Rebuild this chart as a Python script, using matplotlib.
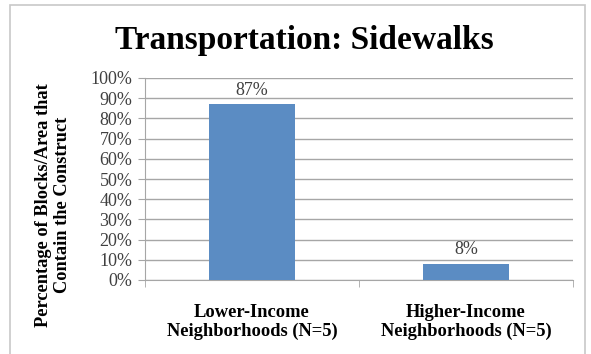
import matplotlib.pyplot as plt
from matplotlib.patches import Rectangle
from matplotlib.ticker import PercentFormatter

categories = ["Lower-Income\nNeighborhoods (N=5)", "Higher-Income\nNeighborhoods (N=5)"]
values = [87, 8]
yticks = list(range(0, 101, 10))

W, H = 591, 354
fig = plt.figure(figsize=(W / 100, H / 100), dpi=100)
fig.patch.set_facecolor("white")
serif = "Liberation Serif"

# chart frame
fig.add_artist(Rectangle((10 / W, -0.05), 575 / W, 1 - 5 / H + 0.05,
                         transform=fig.transFigure, fill=False,
                         edgecolor="#c8c8c8", linewidth=1.2))

ax = fig.add_axes([145 / W, 1 - 280 / H, (573 - 145) / W, (280 - 78) / H])

x = range(len(values))
ax.bar(x, values, width=0.4, color="#5b8cc3", zorder=3)
ax.set_xlim(-0.5, 1.5)
ax.set_ylim(0, 100)
ax.set_yticks(yticks)
ax.yaxis.set_major_formatter(PercentFormatter(decimals=0))
ax.grid(axis="y", color="#a6a6a6", linewidth=1.0, zorder=0)

for i, v in zip(x, values):
    ax.annotate(f"{v}%", (i, v), xytext=(0, 4), textcoords="offset points",
                ha="center", va="bottom", fontsize=13, family=serif,
                color="#404040")

for s in ["top", "right"]:
    ax.spines[s].set_visible(False)
for s in ["left", "bottom"]:
    ax.spines[s].set_color("#a6a6a6")

ax.set_xticks([-0.5, 0.5, 1.5], minor=True)
ax.set_xticks(list(x))
ax.set_xticklabels(categories, fontsize=13.3, family=serif, fontweight="bold",
                   linespacing=1.15)
ax.tick_params(axis="x", which="major", length=0, pad=17)
ax.tick_params(axis="x", which="minor", length=5, color="#a6a6a6")
ax.tick_params(axis="y", length=5, color="#a6a6a6", labelsize=13, pad=4,
               labelcolor="#404040")
for lab in ax.get_yticklabels():
    lab.set_family(serif)

fig.text(53 / W, 1 - 205 / H, "Percentage of Blocks/Area that\nContain the Construct",
         rotation=90, ha="center", va="center", family=serif,
         fontweight="bold", fontsize=13.2, linespacing=1.15)

fig.text(115 / W, 1 - 41 / H, "Transportation: Sidewalks", ha="left",
         va="center", family=serif, fontweight="bold", fontsize=24)

fig.savefig("out.png", dpi=100)
